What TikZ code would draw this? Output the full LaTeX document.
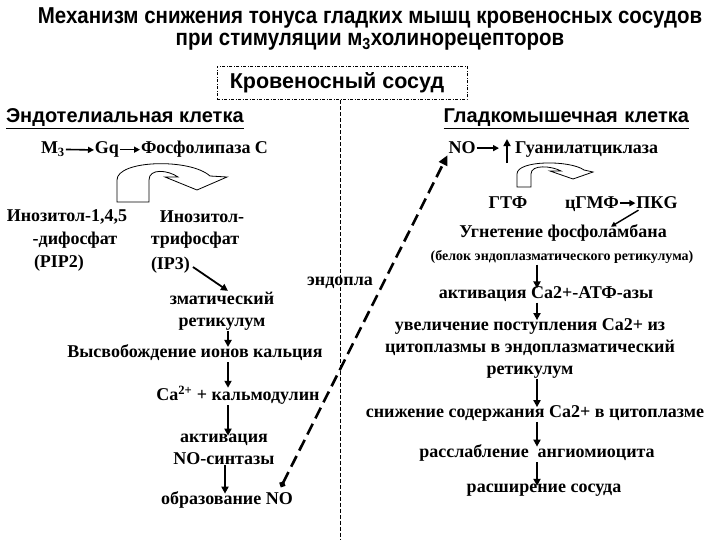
\documentclass[tikz,border=0pt]{standalone}
\usepackage{fontspec}
\setmainfont{Liberation Serif}
\newfontfamily\hsans{Liberation Sans}
\newfontfamily\tsans[FakeStretch=0.89]{Liberation Sans}
\usetikzlibrary{arrows.meta}
\begin{document}
\begin{tikzpicture}[x=1pt,y=-1pt,
  every node/.style={inner sep=0pt, outer sep=1pt},
  tx/.style={font=\fontsize{18}{22}\selectfont\bfseries, align=center},
  sm/.style={font=\fontsize{14}{16}\selectfont\bfseries},
  ttl/.style={font=\tsans\fontsize{23}{26}\selectfont\bfseries},
  hd/.style={font=\hsans\fontsize{20}{22}\selectfont\bfseries},
  ar/.style={line width=1.8pt, -{Triangle[length=7pt,width=7pt]}},
  arsm/.style={line width=1.6pt, -{Triangle[length=6pt,width=6pt]}},
  uturn/.style={draw=black, line width=0.8pt, fill=white},
  sep/.style={line width=0.7pt, dash pattern=on 4pt off 2pt},
  bigdash/.style={line width=2.6pt, dash pattern=on 12pt off 6pt,
     {Circle[length=6pt]}-{Triangle[length=10pt,width=9pt]}},
]
\useasboundingbox[fill=white] (0,0) rectangle (720,540);

% title
\node[ttl] (t1) at (370,18) {Механизм снижения тонуса гладких мышц кровеносных сосудов};
\node[ttl] (t2) at (370,42) {при стимуляции м\textsubscript{3}холинорецепторов};

% vessel box
\node[draw, line width=0.6pt, dash pattern=on 3pt off 1.5pt on 1pt off 1.5pt,
      minimum width=250pt, minimum height=33pt, font=\hsans\fontsize{21.5}{24}\selectfont\bfseries]
      (vessel) at (342,83) {Кровеносный сосуд\hspace*{10pt}};
\coordinate (sepend) at (340,540);
\draw[sep] (vessel.south -| sepend) -- (sepend);

% headers
\node[hd, anchor=west] (endo) at (5,119) {\underline{Эндотелиальная клетка}};
\node[hd, anchor=east] (smooth) at (690,119) {\underline{Гладкомышечная\,\,клетка}};

% left chain
\node[tx, anchor=base west] (m3) at (40,154) {M\textsubscript{3}};
\node[tx, anchor=base] (gq) at (107,154) {Gq};
\node[tx, anchor=base west] (plc) at (140,154) {Фосфолипаза C};
\draw[arsm] (m3.east) -- (gq.west);
\draw[arsm] (gq.east |- plc.west) -- (plc.west);

\draw[uturn] (117,202) -- (117,180) .. controls (117,160) and (190,158) .. (210,176)
   -- (227,177) -- (197,190) -- (165,177) -- (178,177)
   .. controls (168,170) and (149,168) .. (149,180) -- (149,202) -- cycle;

\node[tx] (pipa) at (67,217) {Инозитол-1,4,5};
\node[tx] (pipb) at (75,240) {-дифосфат};
\node[tx, anchor=west] (pipc) at (33,263) {(PIP2)};

\node[tx] (ipa) at (202,217) {Инозитол-};
\node[tx] (ipb) at (195,240) {трифосфат};
\node[tx, anchor=west] (ipc) at (150,265) {(IP3)};

\node[tx] (endopla) at (340,283) {эндопла};
\node[tx] (er) at (222,311) {зматический\\ретикулум};
\node[tx] (calc) at (195,353) {Высвобождение ионов кальция};
\node[tx] (ca) at (238,395) {Ca\textsuperscript{2+} + кальмодулин};
\node[tx] (nos) at (224,449) {активация\\NO-синтазы};
\node[tx] (obr) at (227,500) {образование NO};

\coordinate (ax) at (228,0);
\coordinate (axb) at (225,0);
\draw[ar] ([xshift=2pt,yshift=-2pt]ipc.east) -- ([xshift=6pt]er.north);
\draw[ar] (er.south -| ax) -- ([yshift=-3pt]calc.north -| ax);
\draw[ar] (calc.south -| ax) -- ([yshift=-3pt]ca.north -| ax);
\draw[ar] (ca.south -| ax) -- ([yshift=-3pt]nos.north -| ax);
\draw[ar] (nos.south -| axb) -- ([yshift=-3pt]obr.north -| axb);

% right chain
\node[tx, anchor=base] (no) at (462,154) {NO};
\node[tx, anchor=base west] (gc) at (514,154) {Гуанилатциклаза};
\draw[arsm] (no.east) -- ([xshift=-15pt]gc.west |- no.east);
\draw[line width=2.2pt, -{Triangle[length=7pt,width=7pt]}]
   ([xshift=-7pt,yshift=-13pt]gc.west) -- ([xshift=-7pt,yshift=11pt]gc.west);

\draw[uturn] (517,187) -- (517,174) .. controls (517,160) and (570,160) .. (584,170)
   -- (593,172) -- (573,179) -- (550,171) -- (561,171)
   .. controls (552,166) and (531,164) .. (531,174) -- (531,187) -- cycle;

\node[tx, anchor=base] (gtf) at (508,209) {ГТФ};
\node[tx, anchor=base] (cgmp) at (592,209) {цГМФ};
\node[tx, anchor=base] (pkg) at (657,209) {ПКG};
\draw[arsm] (cgmp.east |- pkg.west) -- (pkg.west);

\node[tx] (ugn) at (563,233) {Угнетение фосфоламбана};
\node[sm] (belok) at (562,257) {(белок эндоплазматического ретикулума)};
\draw[line width=1.4pt, -{Triangle[length=5pt,width=5pt]}] ([xshift=3pt]pkg.south west) -- ([xshift=48pt,yshift=-3pt]ugn.north);

\node[tx] (atf) at (546,294) {активация Ca2+-АТФ-азы};
\node[tx] (inc) at (530,348) {увеличение поступления Ca2+ из\\цитоплазмы в эндоплазматический\\ретикулум};
\node[tx] (dec) at (535,413) {снижение содержания Ca2+ в цитоплазме};
\node[tx] (rel) at (537,453) {расслабление\ \ ангиомиоцита};
\node[tx] (exp) at (544,490) {расширение сосуда};

\coordinate (bx) at (537,0);
\draw[ar] (belok.south -| bx) -- ([yshift=-3pt]atf.north -| bx);
\draw[ar] (atf.south -| bx) -- ([yshift=-3pt]inc.north -| bx);
\draw[ar] (inc.south -| bx) -- ([yshift=-3pt]dec.north -| bx);
\draw[ar] (dec.south -| bx) -- ([yshift=-3pt]rel.north -| bx);
\draw[ar] (rel.south -| bx) -- ([yshift=-3pt]exp.north -| bx);

% NO transfer
\coordinate (nodot) at (281,487);
\draw[bigdash] (nodot) -- (no.south west);
\end{tikzpicture}
\end{document}
